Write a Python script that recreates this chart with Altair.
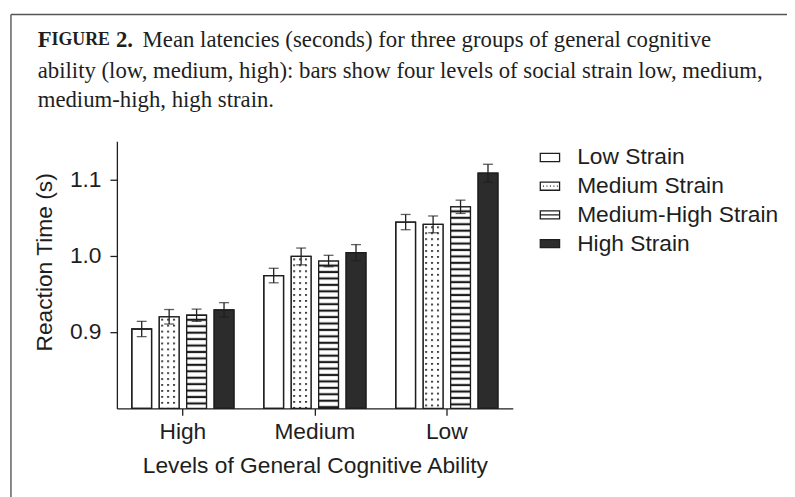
import base64
import altair as alt
import pandas as pd

# ---- data ----
groups = ["High", "Medium", "Low"]
strains = ["Low Strain", "Medium Strain", "Medium-High Strain", "High Strain"]
means_high = [0.904, 0.920, 0.922, 0.929]
means_medium = [0.974, 0.999, 0.993, 1.004]
means_low = [1.044, 1.041, 1.064, 1.108]
err_high = [0.010, 0.0095, 0.008, 0.0095]
err_medium = [0.0095, 0.011, 0.0075, 0.0105]
err_low = [0.010, 0.011, 0.0087, 0.0117]

caption_head = "Mean latencies (seconds) for three groups of general cognitive"
caption_lines = [
    "ability (low, medium, high): bars show four levels of social strain low, medium,",
    "medium-high, high strain.",
]

rows = []
for g, ms, es in zip(groups, [means_high, means_medium, means_low], [err_high, err_medium, err_low]):
    for s, m, e in zip(strains, ms, es):
        rows.append({"group": g, "strain": s, "mean": m, "err": e})
df = pd.DataFrame(rows)

# ---- pattern tiles (SVG images) ----
def svg_uri(svg):
    return "data:image/svg+xml;base64," + base64.b64encode(svg.encode()).decode()

dots_svg = ('<svg xmlns="http://www.w3.org/2000/svg" width="100%" height="100%">'
            '<defs><pattern id="d" width="6" height="6" patternUnits="userSpaceOnUse">'
            '<rect width="6" height="6" fill="#ffffff"/>'
            '<rect x="2" y="2" width="1.8" height="1.8" fill="#1a1a1a"/></pattern></defs>'
            '<rect width="100%" height="100%" fill="url(#d)"/></svg>')
stripe_svg = ('<svg xmlns="http://www.w3.org/2000/svg" width="100%" height="100%">'
              '<defs><pattern id="s" width="7" height="6.5" patternUnits="userSpaceOnUse">'
              '<rect width="7" height="6.5" fill="#ffffff"/>'
              '<rect x="0" y="3.5" width="7" height="2.2" fill="#1a1a1a"/></pattern></defs>'
              '<rect width="100%" height="100%" fill="url(#s)"/></svg>')
DOTS = svg_uri(dots_svg)
STRIPES = svg_uri(stripe_svg)

# legend symbol shapes (wide boxes; dotted and striped variants)
BOX = "M-1,-0.42H1V0.42H-1Z"
SYM_DOTS = BOX + " M-0.72,0h0.1 M-0.36,0h0.1 M0,0h0.1 M0.36,0h0.1 M0.72,0h0.1"
SYM_STRIPE = BOX + " M-1,0H1"
sym_expr = (f"datum.value == 'Medium Strain' ? '{SYM_DOTS}' : "
            f"(datum.value == 'Medium-High Strain' ? '{SYM_STRIPE}' : '{BOX}')")

W, H = 400, 270
ink = "#1e1e1e"
FS = 23

x_enc = alt.X("group:N", sort=groups,
              scale=alt.Scale(domain=groups, paddingInner=0.16, paddingOuter=0.08),
              axis=alt.Axis(title="Levels of General Cognitive  Ability", labelAngle=0,
                            titleY=58, titleBaseline="middle", labelPadding=5))
xo_enc = alt.XOffset("strain:N", sort=strains,
                     scale=alt.Scale(domain=strains, paddingInner=0.28, paddingOuter=0.16))
y_scale = alt.Scale(domain=[0.8, 1.15], zero=False, nice=False)
y_enc = alt.Y("mean:Q", scale=y_scale,
              axis=alt.Axis(title="Reaction Time (s)", values=[0.9, 1.0, 1.1], format=".1f",
                            titleX=-73, titleY=122, titleBaseline="middle", titleAngle=-90,
                            labelPadding=9))

base = alt.Chart(df)

bars = base.mark_bar(stroke=ink, strokeWidth=1.3).encode(
    x=x_enc, xOffset=xo_enc, y=y_enc, y2=alt.datum(0.8),
    color=alt.Color("strain:N", sort=strains,
                    scale=alt.Scale(domain=strains,
                                    range=["#ffffff", "#ffffff", "#ffffff", "#2c2c2c"]),
                    legend=alt.Legend(title=None, orient="none", legendX=426, legendY=5,
                                      symbolType={"expr": sym_expr}, symbolSize=380,
                                      symbolStrokeColor=ink, symbolStrokeWidth=1.3,
                                      labelFontSize=FS, labelFont="Liberation Sans",
                                      labelColor=ink, labelOffset=16, rowPadding=5,
                                      labelLimit=300)),
)

patterns = base.transform_filter(
    "datum.strain == 'Medium Strain' || datum.strain == 'Medium-High Strain'"
).transform_calculate(
    u=f"datum.strain == 'Medium Strain' ? '{DOTS}' : '{STRIPES}'"
).mark_image(aspect=False).encode(
    x=x_enc, xOffset=xo_enc, y=y_enc, y2=alt.datum(0.8), url="u:N"
)

outline = base.mark_bar(filled=False, color=ink, strokeWidth=1.3).encode(
    x=x_enc, xOffset=xo_enc, y=y_enc, y2=alt.datum(0.8)
)

eb = base.transform_calculate(lo="datum.mean - datum.err", hi="datum.mean + datum.err")
err_rule = eb.mark_rule(color=ink, strokeWidth=1.3).encode(
    x=x_enc, xOffset=xo_enc, y=alt.Y("lo:Q", scale=y_scale), y2="hi:Q")
cap_lo = eb.mark_tick(color=ink, thickness=1.3, size=10).encode(
    x=x_enc, xOffset=xo_enc, y=alt.Y("lo:Q", scale=y_scale))
cap_hi = eb.mark_tick(color=ink, thickness=1.3, size=10).encode(
    x=x_enc, xOffset=xo_enc, y=alt.Y("hi:Q", scale=y_scale))

# ---- caption and frame ----
one = pd.DataFrame({"k": [0]})
serif = "Liberation Serif"


def txt(t, xpos, ypos, size=FS, weight="normal"):
    return alt.Chart(one).mark_text(text=t, font=serif, fontSize=size, fontWeight=weight,
                                    align="left", color=ink).encode(
        x=alt.value(xpos), y=alt.value(ypos))


L1, L2, L3 = -102, -71, -41
caption = [
    txt("F", -80, L1, FS, "bold"),
    txt("IGURE", -66, L1, 18, "bold"),
    txt("2.", -1, L1, FS, "bold"),
    txt(caption_head, 26, L1),
    txt(caption_lines[0], -80, L2),
    txt(caption_lines[1], -80, L3),
]
frame_top = alt.Chart(one).mark_rule(color="#555555", strokeWidth=1.4).encode(
    x=alt.value(-107), x2=alt.value(700), y=alt.value(-128))
frame_left = alt.Chart(one).mark_rule(color="#555555", strokeWidth=1.4).encode(
    x=alt.value(-107), y=alt.value(-128), y2=alt.value(380))

chart = alt.layer(
    bars, patterns, outline, err_rule, cap_lo, cap_hi, *caption, frame_top, frame_left
).resolve_scale(x="shared", y="shared").properties(
    width=W, height=H,
    autosize=alt.AutoSizeParams(type="none"),
    padding={"left": 110, "top": 132, "right": 277, "bottom": 87},
    background="#ffffff",
).configure_view(stroke=None).configure_axis(
    labelFont="Liberation Sans", titleFont="Liberation Sans",
    labelFontSize=FS, titleFontSize=FS, titleFontWeight="normal",
    labelColor=ink, titleColor=ink, domainColor=ink, tickColor=ink,
    domainWidth=1.3, tickWidth=1.3, tickSize=7, grid=False,
)

chart.save("out.html", embed_options={"renderer": "svg", "actions": False})
